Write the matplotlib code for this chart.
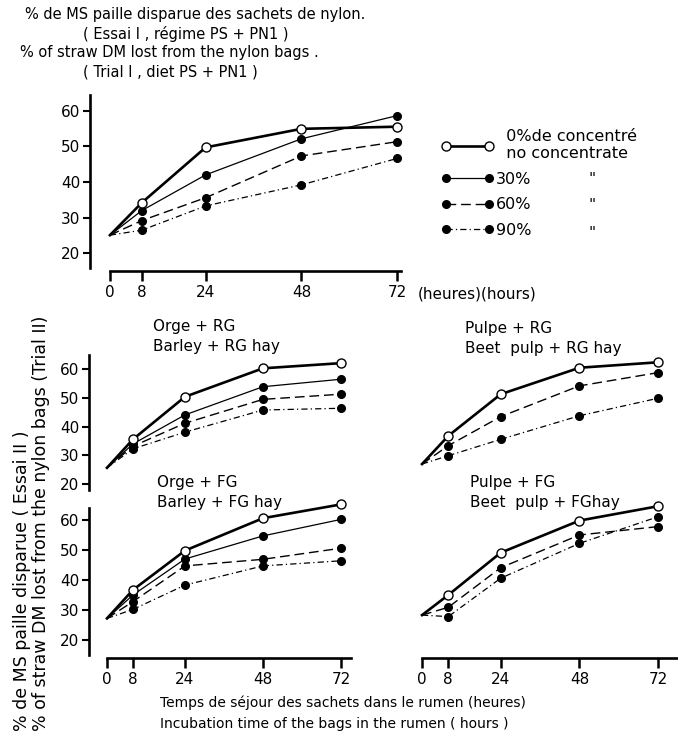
import numpy as np
import matplotlib.pyplot as plt
from matplotlib.lines import Line2D

plt.rcParams['font.family'] = ['DejaVu Sans']

# incubation times (hours)
hours = [0, 8, 24, 48, 72]

# Trial I, diet PS + PN1
trial1_0 = [25.1, 34.2, 49.7, 54.9, 55.5]
trial1_30 = [25.1, 32.0, 42.0, 52.1, 58.6]
trial1_60 = [25.1, 29.2, 35.6, 47.3, 51.3]
trial1_90 = [25.1, 26.5, 33.3, 39.2, 46.6]

# Trial II, barley + RG hay
barley_rg_0 = [25.7, 35.6, 50.4, 60.3, 62.1]
barley_rg_30 = [25.7, 34.0, 44.1, 53.9, 56.5]
barley_rg_60 = [25.7, 33.2, 41.2, 49.5, 51.3]
barley_rg_90 = [25.7, 32.3, 38.1, 45.8, 46.4]

# Trial II, beet pulp + RG hay
pulp_rg_0 = [27.0, 36.8, 51.3, 60.5, 62.4]
pulp_rg_60 = [27.0, 33.4, 43.5, 54.2, 58.8]
pulp_rg_90 = [27.0, 29.9, 35.6, 43.8, 49.9]

# Trial II, barley + FG hay
barley_fg_0 = [27.1, 36.6, 49.7, 60.5, 65.1]
barley_fg_30 = [27.1, 34.9, 46.9, 54.6, 60.1]
barley_fg_60 = [27.1, 32.7, 44.6, 46.8, 50.5]
barley_fg_90 = [27.1, 30.1, 38.2, 44.6, 46.3]

# Trial II, beet pulp + FG hay
pulp_fg_0 = [28.2, 34.9, 49.0, 59.7, 64.5]
pulp_fg_60 = [28.2, 30.8, 44.0, 54.9, 57.7]
pulp_fg_90 = [28.2, 27.7, 40.5, 52.1, 61.0]

yticks = [20, 30, 40, 50, 60]

W, H = 678, 737
fig = plt.figure(figsize=(W / 100, H / 100), dpi=100)


def add_axes_px(left, right, top, bottom):
    return fig.add_axes([left / W, 1 - bottom / H, (right - left) / W, (bottom - top) / H])


styles = {
    '0': dict(color='black', lw=1.9, ls='-', marker='o', ms=6.5, mfc='white', mec='black', mew=1.0, zorder=5),
    '30': dict(color='black', lw=0.9, ls='-', marker='o', ms=5.5, mfc='black', mec='black', zorder=4),
    '60': dict(color='black', lw=1.0, ls=(0, (7, 3.5)), marker='o', ms=5.5, mfc='black', mec='black', zorder=3),
    '90': dict(color='black', lw=0.9, ls=(0, (5, 2.5, 1, 2.5)), marker='o', ms=5.5, mfc='black', mec='black', zorder=2),
}


def draw(ax, series):
    for key, vals in series:
        ax.plot(hours, vals, markevery=[1, 2, 3, 4], clip_on=False, **styles[key])


def style_axes(ax, left_bounds=None, bottom_bounds=None):
    for s in ['top', 'right']:
        ax.spines[s].set_visible(False)
    if left_bounds is None:
        ax.spines['left'].set_visible(False)
        ax.set_yticks([])
    else:
        ax.spines['left'].set_bounds(*left_bounds)
        ax.spines['left'].set_linewidth(1.9)
        ax.set_yticks(yticks)
        ax.tick_params(axis='y', direction='out', length=5, width=1.5, labelsize=11, pad=2)
    if bottom_bounds is None:
        ax.spines['bottom'].set_visible(False)
        ax.set_xticks([])
    else:
        ax.spines['bottom'].set_bounds(*bottom_bounds)
        ax.spines['bottom'].set_linewidth(1.9)
        ax.set_xticks(hours)
        ax.tick_params(axis='x', direction='out', length=7, width=1.8, labelsize=11, pad=3)
    ax.patch.set_visible(False)


# top panel: Trial I
ax0 = add_axes_px(90, 429, 92.8, 271.2)
ax0.set_xlim(-5, 80)
ax0.set_ylim(15, 65)
draw(ax0, [('90', trial1_90), ('60', trial1_60), ('30', trial1_30), ('0', trial1_0)])
style_axes(ax0, left_bounds=(16, 64.5), bottom_bounds=(0, 73))
fig.text(418 / W, 1 - 294 / H, '(heures)(hours)', fontsize=11, va='center', ha='left')

# legend
handles = [
    Line2D([], [], **{k: v for k, v in styles['0'].items() if k != 'zorder'}),
    Line2D([], [], **{k: v for k, v in styles['30'].items() if k != 'zorder'}),
    Line2D([], [], **{k: v for k, v in styles['60'].items() if k != 'zorder'}),
    Line2D([], [], **{k: v for k, v in styles['90'].items() if k != 'zorder'}),
]
labels = ['  0%de concentré\n  no concentrate', '30%', '60%', '90%']
fig.legend(handles, labels, loc='upper left', bbox_to_anchor=(441 / W, 1 - 129 / H),
           frameon=False, numpoints=2, fontsize=11.5, handlelength=3.3, handletextpad=0.15,
           labelspacing=0.65, borderpad=0, borderaxespad=0)
for yy in [179, 206, 233]:
    fig.text(592 / W, 1 - yy / H, '"', fontsize=11, ha='center', va='center')

# titles
title_lines = [
    (25, 15, '% de MS paille disparue des sachets de nylon.'),
    (83, 34, '( Essai I , régime PS + PN1 )'),
    (20, 53, '% of straw DM lost from the nylon bags .'),
    (83, 72, '( Trial I , diet PS + PN1 )'),
]
for x, y, t in title_lines:
    fig.text(x / W, 1 - y / H, t, fontsize=10.5, ha='left', va='center')

# Trial II panels
ax1 = add_axes_px(89.1, 354, 354.8, 492.8)
ax1.set_xlim(-5.5, 76)
ax1.set_ylim(17, 65)
draw(ax1, [('90', barley_rg_90), ('60', barley_rg_60), ('30', barley_rg_30), ('0', barley_rg_0)])
style_axes(ax1, left_bounds=(18, 65))

ax2 = add_axes_px(404, 671.3, 354.8, 492.8)
ax2.set_xlim(-5.5, 76)
ax2.set_ylim(17, 65)
draw(ax2, [('90', pulp_rg_90), ('60', pulp_rg_60), ('0', pulp_rg_0)])
style_axes(ax2)

ax3 = add_axes_px(89.1, 354, 507.7, 657.7)
ax3.set_xlim(-5.5, 76)
ax3.set_ylim(14, 64)
draw(ax3, [('90', barley_fg_90), ('60', barley_fg_60), ('30', barley_fg_30), ('0', barley_fg_0)])
style_axes(ax3, left_bounds=(15, 64), bottom_bounds=(0, 75))

ax4 = add_axes_px(404, 677.8, 507.7, 657.7)
ax4.set_xlim(-5.5, 78)
ax4.set_ylim(14, 64)
draw(ax4, [('90', pulp_fg_90), ('60', pulp_fg_60), ('0', pulp_fg_0)])
style_axes(ax4, bottom_bounds=(0, 78))

panel_titles = [
    (153, 327, 'Orge + RG'), (153, 347, 'Barley + RG hay'),
    (465, 328, 'Pulpe + RG'), (465, 348, 'Beet  pulp + RG hay'),
    (157, 482, 'Orge + FG'), (157, 502, 'Barley + FG hay'),
    (470, 483, 'Pulpe + FG'), (470, 503, 'Beet  pulp + FGhay'),
]
for x, y, t in panel_titles:
    fig.text(x / W, 1 - y / H, t, fontsize=11, ha='left', va='center')

# y labels (Trial II)
fig.text(22 / W, 1 - 731 / H, '% de MS paille disparue ( Essai II )', rotation=90,
         fontsize=12.5, ha='center', va='bottom')
fig.text(41 / W, 1 - 731 / H, '% of straw DM lost from the nylon bags (Trial II)', rotation=90,
         fontsize=12.5, ha='center', va='bottom')

# x labels
fig.text(160 / W, 1 - 703 / H, 'Temps de séjour des sachets dans le rumen (heures)',
         fontsize=10, ha='left', va='center')
fig.text(160 / W, 1 - 724 / H, 'Incubation time of the bags in the rumen ( hours )',
         fontsize=10, ha='left', va='center')

fig.savefig('out.png', dpi=100, facecolor='white')
